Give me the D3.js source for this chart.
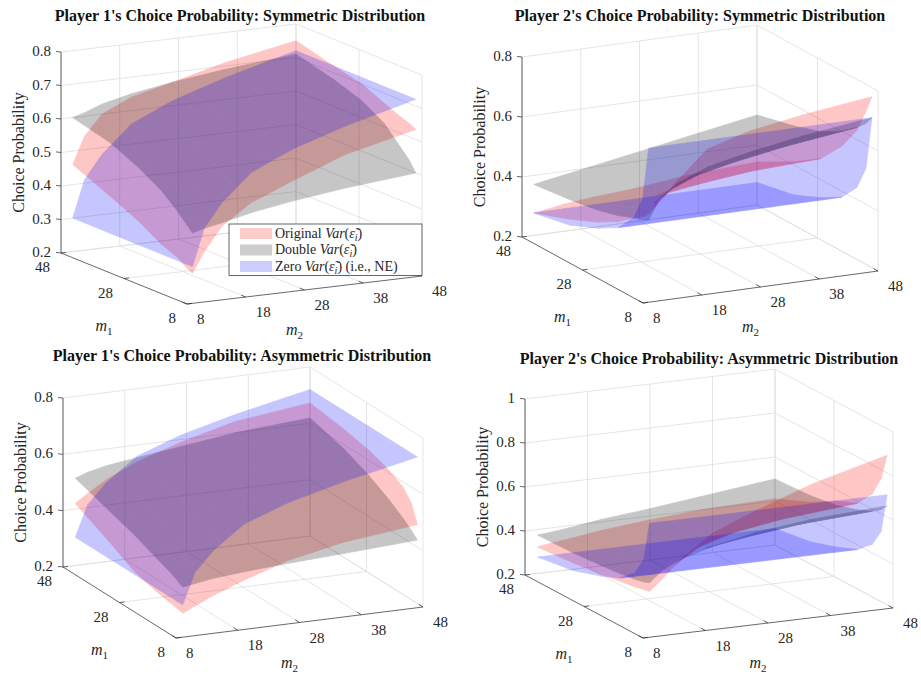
<!DOCTYPE html>
<html>
<head>
<meta charset="utf-8">
<script src="https://cdn.jsdelivr.net/npm/d3@7"></script>
<style>
  body { margin: 0; background: #fff; }
  svg, svg text, svg tspan { font-family: "Liberation Serif", "DejaVu Serif", serif; }
  text { fill: #262626; }
</style>
</head>
<body>
<svg id="chart" width="921" height="675" font-family="Liberation Serif, DejaVu Serif, serif"></svg>
<script>
// grid of m values where the surfaces were sampled (same for m1 and m2)
const mGrid = [10, 12, 15, 20, 27, 36, 48];

// tick values
const m1Ticks = [8, 28, 48];
const m2Ticks = [8, 18, 28, 38, 48];
const zTicksFine = [0.2, 0.3, 0.4, 0.5, 0.6, 0.7, 0.8];
const zTicksCoarse = [0.2, 0.4, 0.6, 0.8];
const zTicksWide = [0.2, 0.4, 0.6, 0.8, 1];

// rows = m1 (mGrid), columns = m2 (mGrid)
const p1SymOriginal = [
  [0.28, 0.34, 0.41, 0.47, 0.52, 0.58, 0.63],
  [0.29, 0.35, 0.42, 0.48, 0.53, 0.59, 0.64],
  [0.31, 0.37, 0.44, 0.50, 0.55, 0.60, 0.65],
  [0.33, 0.40, 0.47, 0.53, 0.58, 0.63, 0.67],
  [0.37, 0.44, 0.51, 0.57, 0.62, 0.66, 0.70],
  [0.41, 0.49, 0.56, 0.61, 0.65, 0.69, 0.72],
  [0.46, 0.54, 0.60, 0.64, 0.67, 0.71, 0.75]
];
const p1SymDouble = [
  [0.40, 0.41, 0.42, 0.44, 0.46, 0.48, 0.50],
  [0.42, 0.43, 0.44, 0.46, 0.48, 0.51, 0.53],
  [0.45, 0.46, 0.47, 0.49, 0.51, 0.54, 0.56],
  [0.49, 0.50, 0.51, 0.53, 0.55, 0.58, 0.61],
  [0.53, 0.54, 0.56, 0.58, 0.60, 0.63, 0.65],
  [0.57, 0.58, 0.60, 0.62, 0.64, 0.66, 0.68],
  [0.60, 0.61, 0.63, 0.65, 0.67, 0.69, 0.71]
];
const p2SymOriginal = [
  [0.48, 0.52, 0.58, 0.67, 0.71, 0.74, 0.77],
  [0.46, 0.49, 0.54, 0.61, 0.65, 0.68, 0.71],
  [0.44, 0.46, 0.50, 0.55, 0.58, 0.61, 0.63],
  [0.40, 0.42, 0.45, 0.49, 0.51, 0.53, 0.55],
  [0.36, 0.37, 0.39, 0.42, 0.44, 0.46, 0.47],
  [0.32, 0.33, 0.34, 0.36, 0.38, 0.39, 0.41],
  [0.275, 0.28, 0.29, 0.30, 0.31, 0.33, 0.343]
];
const p2SymDouble = [
  [0.46, 0.53, 0.57, 0.61, 0.64, 0.67, 0.70],
  [0.45, 0.50, 0.54, 0.58, 0.61, 0.64, 0.67],
  [0.44, 0.47, 0.51, 0.55, 0.58, 0.61, 0.64],
  [0.42, 0.44, 0.47, 0.51, 0.54, 0.57, 0.60],
  [0.40, 0.415, 0.44, 0.47, 0.50, 0.53, 0.56],
  [0.385, 0.395, 0.41, 0.435, 0.46, 0.49, 0.53],
  [0.37, 0.377, 0.387, 0.404, 0.428, 0.459, 0.50]
];
const p1AsymOriginal = [
  [0.27, 0.29, 0.32, 0.36, 0.41, 0.45, 0.48],
  [0.275, 0.30, 0.34, 0.39, 0.45, 0.50, 0.54],
  [0.28, 0.31, 0.36, 0.42, 0.48, 0.54, 0.58],
  [0.29, 0.33, 0.38, 0.45, 0.51, 0.57, 0.61],
  [0.31, 0.35, 0.41, 0.48, 0.54, 0.60, 0.635],
  [0.36, 0.40, 0.45, 0.51, 0.57, 0.62, 0.655],
  [0.42, 0.45, 0.49, 0.54, 0.59, 0.64, 0.672]
];
const p1AsymDouble = [
  [0.363, 0.37, 0.38, 0.39, 0.40, 0.41, 0.425],
  [0.375, 0.38, 0.39, 0.40, 0.415, 0.43, 0.445],
  [0.39, 0.40, 0.41, 0.42, 0.44, 0.455, 0.47],
  [0.41, 0.42, 0.435, 0.45, 0.47, 0.49, 0.505],
  [0.44, 0.45, 0.465, 0.48, 0.50, 0.525, 0.545],
  [0.47, 0.485, 0.50, 0.52, 0.54, 0.565, 0.585],
  [0.51, 0.525, 0.54, 0.555, 0.575, 0.60, 0.619]
];
const p2AsymOriginal = [
  [0.39, 0.44, 0.52, 0.62, 0.70, 0.79, 0.88],
  [0.385, 0.42, 0.48, 0.57, 0.64, 0.71, 0.76],
  [0.375, 0.40, 0.45, 0.52, 0.58, 0.63, 0.67],
  [0.365, 0.38, 0.42, 0.47, 0.52, 0.56, 0.59],
  [0.35, 0.36, 0.39, 0.43, 0.46, 0.50, 0.55],
  [0.335, 0.345, 0.36, 0.39, 0.41, 0.44, 0.48],
  [0.32, 0.33, 0.34, 0.36, 0.38, 0.40, 0.41]
];
const p2AsymDouble = [
  [0.43, 0.48, 0.52, 0.56, 0.60, 0.63, 0.65],
  [0.42, 0.46, 0.50, 0.54, 0.57, 0.60, 0.62],
  [0.41, 0.44, 0.47, 0.51, 0.54, 0.57, 0.59],
  [0.40, 0.42, 0.45, 0.48, 0.51, 0.54, 0.56],
  [0.39, 0.405, 0.43, 0.455, 0.48, 0.51, 0.53],
  [0.38, 0.39, 0.41, 0.435, 0.46, 0.48, 0.51],
  [0.375, 0.38, 0.39, 0.41, 0.43, 0.46, 0.50]
];
// NE (zero variance): player 1 depends on m2 only, player 2 on m1 only
const p1Ne = [0.30, 0.41, 0.48, 0.56, 0.615, 0.665, 0.72];
const p2Ne = [0.70, 0.52, 0.44, 0.38, 0.34, 0.30, 0.275];

const p1NeGrid = mGrid.map(() => p1Ne.slice());
const p2NeGrid = mGrid.map((_, i) => mGrid.map(() => p2Ne[i]));

const RED = "#ff0000", GRAY = "#000000", BLUE = "#0000ff";
const GRID_COLOR = "#dedede", AXIS_COLOR = "#262626";
const FONT = "Liberation Serif, DejaVu Serif, serif";

const panels = [
  { title: "Player 1's Choice Probability: Symmetric Distribution", tx: 240, ty: 21,
    zDomain: [0.2, 0.8], zTicks: zTicksFine,
    o: [187, 304], a: [-126, -51], b: [235, -28], c: [0, -201],
    surfaces: [[p1SymOriginal, RED], [p1SymDouble, GRAY], [p1NeGrid, BLUE]], legend: true },
  { title: "Player 2's Choice Probability: Symmetric Distribution", tx: 700, ty: 21,
    zDomain: [0.2, 0.8], zTicks: zTicksCoarse,
    o: [643, 303], a: [-121, -66], b: [235, -32], c: [0, -180],
    surfaces: [[p2SymOriginal, RED], [p2SymDouble, GRAY], [p2NeGrid, BLUE]] },
  { title: "Player 1's Choice Probability: Asymmetric Distribution", tx: 242, ty: 361,
    zDomain: [0.2, 0.8], zTicks: zTicksCoarse,
    o: [176, 638], a: [-113, -71], b: [247, -31], c: [0, -169],
    surfaces: [[p1AsymOriginal, RED], [p1AsymDouble, GRAY], [p1NeGrid, BLUE]] },
  { title: "Player 2's Choice Probability: Asymmetric Distribution", tx: 709, ty: 364,
    zDomain: [0.2, 1], zTicks: zTicksWide,
    o: [643, 638], a: [-118, -63], b: [250, -30], c: [0, -176],
    surfaces: [[p2AsymOriginal, RED], [p2AsymDouble, GRAY], [p2NeGrid, BLUE]] }
];

const svg = d3.select("#chart");
const line = d3.line();

panels.forEach(p => {
  const g = svg.append("g").attr("font-family", FONT);
  const u = d3.scaleLinear().domain([8, 48]).range([0, 1]);
  const v = d3.scaleLinear().domain([8, 48]).range([0, 1]);
  const w = d3.scaleLinear().domain(p.zDomain).range([0, 1]);
  const P = (m1, m2, z) => [
    p.o[0] + u(m1) * p.a[0] + v(m2) * p.b[0] + w(z) * p.c[0],
    p.o[1] + u(m1) * p.a[1] + v(m2) * p.b[1] + w(z) * p.c[1]
  ];
  const [z0, z1] = p.zDomain;

  // grid on the back walls and the floor
  const gridLines = [];
  p.zTicks.forEach(z => {
    gridLines.push([P(48, 8, z), P(48, 48, z)]);
    gridLines.push([P(48, 48, z), P(8, 48, z)]);
  });
  m2Ticks.forEach(m2 => {
    gridLines.push([P(48, m2, z0), P(48, m2, z1)]);
    if (m2 > 8) gridLines.push([P(8, m2, z0), P(48, m2, z0)]);
  });
  m1Ticks.forEach(m1 => {
    gridLines.push([P(m1, 48, z0), P(m1, 48, z1)]);
    if (m1 > 8) gridLines.push([P(m1, 8, z0), P(m1, 48, z0)]);
  });
  g.append("g").selectAll("path").data(gridLines).join("path")
    .attr("d", line).attr("fill", "none")
    .attr("stroke", GRID_COLOR).attr("stroke-width", 0.8);

  // surfaces: quads split by facing so folded parts overlap like in the original
  p.surfaces.forEach(([vals, color]) => {
    const front = [], back = [];
    for (let i = 0; i < mGrid.length - 1; i++) {
      for (let j = 0; j < mGrid.length - 1; j++) {
        const q = [
          P(mGrid[i], mGrid[j], vals[i][j]),
          P(mGrid[i + 1], mGrid[j], vals[i + 1][j]),
          P(mGrid[i + 1], mGrid[j + 1], vals[i + 1][j + 1]),
          P(mGrid[i], mGrid[j + 1], vals[i][j + 1])
        ];
        (d3.polygonArea(q) >= 0 ? front : back).push(q);
      }
    }
    [front, back].forEach(set => {
      if (!set.length) return;
      g.append("g").attr("opacity", 0.22)
        .selectAll("path").data(set).join("path")
        .attr("d", d => line(d) + "Z")
        .attr("fill", color).attr("stroke", color)
        .attr("stroke-width", 0.7).attr("stroke-linejoin", "round");
    });
  });

  // axes
  const axes = [
    [P(48, 8, z0), P(48, 8, z1)],
    [P(48, 8, z0), P(8, 8, z0)],
    [P(8, 8, z0), P(8, 48, z0)]
  ];
  g.append("g").selectAll("path").data(axes).join("path")
    .attr("d", line).attr("fill", "none")
    .attr("stroke", AXIS_COLOR).attr("stroke-width", 0.7);

  const normA = Math.hypot(p.a[0], p.a[1]), normB = Math.hypot(p.b[0], p.b[1]);
  const ticks = [];
  p.zTicks.forEach(z => {
    const q = P(48, 8, z);
    ticks.push([q, [q[0] - 5, q[1] - 0.6]]);
  });
  m1Ticks.forEach(m1 => {
    const q = P(m1, 8, z0);
    ticks.push([q, [q[0] + 5 * p.b[0] / normB, q[1] + 5 * p.b[1] / normB]]);
  });
  m2Ticks.forEach(m2 => {
    const q = P(8, m2, z0);
    ticks.push([q, [q[0] + 5 * p.a[0] / normA, q[1] + 5 * p.a[1] / normA]]);
  });
  g.append("g").selectAll("path").data(ticks).join("path")
    .attr("d", line).attr("fill", "none")
    .attr("stroke", AXIS_COLOR).attr("stroke-width", 0.7);

  // tick labels
  g.append("g").selectAll("text").data(p.zTicks).join("text")
    .attr("x", z => P(48, 8, z)[0] - 10).attr("y", z => P(48, 8, z)[1] + 4)
    .attr("text-anchor", "end").attr("font-size", 15)
    .text(z => z === 1 ? "1" : d3.format(".1f")(z));
  g.append("g").selectAll("text").data(m1Ticks).join("text")
    .attr("x", m => P(m, 8, z0)[0] - 11).attr("y", m => P(m, 8, z0)[1] + 19)
    .attr("text-anchor", "end").attr("font-size", 15)
    .text(m => m);
  g.append("g").selectAll("text").data(m2Ticks).join("text")
    .attr("x", m => P(8, m, z0)[0] + 10).attr("y", m => P(8, m, z0)[1] + 20)
    .attr("text-anchor", "start").attr("font-size", 15)
    .text(m => m);

  // axis labels
  const zl = P(48, 8, (z0 + z1) / 2);
  g.append("text")
    .attr("transform", `translate(${zl[0] - 37},${zl[1]}) rotate(-90)`)
    .attr("text-anchor", "middle").attr("font-size", 16)
    .text("Choice Probability");

  const m1Mid = P(28, 8, z0), m2Mid = P(8, 28, z0);
  [[m1Mid, "1", -20, 52], [m2Mid, "2", -10, 45]].forEach(([q, sub, dx, dy]) => {
    const t = g.append("text")
      .attr("x", q[0] + dx).attr("y", q[1] + dy)
      .attr("text-anchor", "middle").attr("font-size", 16);
    t.append("tspan").attr("font-style", "italic").text("m");
    t.append("tspan").attr("font-size", 11).attr("dy", 4).text(sub);
  });

  // title
  g.append("text")
    .attr("x", p.tx).attr("y", p.ty)
    .attr("text-anchor", "middle").attr("font-size", 16)
    .attr("font-weight", "bold").style("fill", "#111")
    .text(p.title);

  // legend
  if (p.legend) {
    const lg = g.append("g").attr("transform", "translate(229,224)");
    lg.append("rect").attr("width", 193).attr("height", 51.5)
      .attr("fill", "#fff").attr("stroke", AXIS_COLOR).attr("stroke-width", 0.7);
    const entries = [["Original ", RED, ""], ["Double ", GRAY, ""], ["Zero ", BLUE, " (i.e., NE)"]];
    entries.forEach(([name, color, tail], k) => {
      const y = 4 + k * 16.5;
      lg.append("rect").attr("x", 11).attr("y", y).attr("width", 32).attr("height", 11)
        .attr("fill", color).attr("fill-opacity", 0.2);
      const t = lg.append("text").attr("x", 46).attr("y", y + 9.5).attr("font-size", 14);
      t.append("tspan").text(name);
      t.append("tspan").attr("font-style", "italic").text("Var");
      t.append("tspan").text("(");
      t.append("tspan").attr("font-style", "italic").text("ε\u0303");
      t.append("tspan").attr("font-style", "italic").attr("font-size", 10).attr("dy", 3).text("i");
      t.append("tspan").attr("dy", -3).text(")" + tail);
    });
  }
});
</script>
</body>
</html>
